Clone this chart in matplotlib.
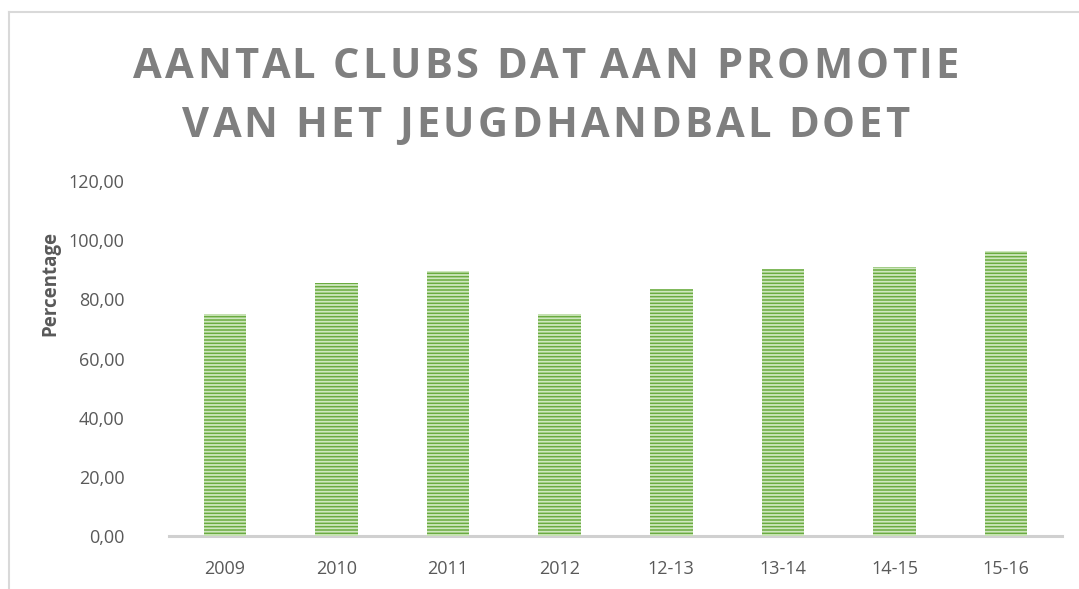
import matplotlib
matplotlib.use("Agg")
import matplotlib.pyplot as plt
from matplotlib.lines import Line2D
from matplotlib.font_manager import FontProperties

categories = ["2009", "2010", "2011", "2012", "12-13", "13-14", "14-15", "15-16"]
values = [75.0, 85.6, 89.7, 75.0, 83.6, 90.4, 90.8, 96.3]
yticks = [0, 20, 40, 60, 80, 100, 120]
ytick_labels = ["0,00", "20,00", "40,00", "60,00", "80,00", "100,00", "120,00"]
title_lines = ["AANTAL CLUBS DAT AAN PROMOTIE", "VAN HET JEUGDHANDBAL DOET"]
ylabel = "Percentage"

W, H = 1079, 589
fig = plt.figure(figsize=(W / 100, H / 100), dpi=100)
plt.rcParams["hatch.linewidth"] = 1.3

ax = fig.add_axes([169 / W, 1 - 536 / H, (1062 - 169) / W, (536 - 181) / H])
x = list(range(len(categories)))
ax.bar(x, values, width=0.38, color="#6aab40", edgecolor="#cfe7bf",
       hatch="-----", linewidth=0, zorder=3)

ax.set_xlim(-0.5, len(categories) - 0.5)
ax.set_ylim(0, 120)
ax.set_yticks(yticks)
ax.set_yticklabels(ytick_labels)
ax.set_xticks(x)
ax.set_xticklabels(categories)
for s in ["top", "right", "left"]:
    ax.spines[s].set_visible(False)
ax.spines["bottom"].set_color("#d0d0d0")
ax.spines["bottom"].set_linewidth(2.2)
ax.tick_params(axis="both", length=0, labelsize=13, colors="#595959")
ax.tick_params(axis="y", pad=32)
ax.tick_params(axis="x", pad=17)
for lab in ax.get_xticklabels() + ax.get_yticklabels():
    lab.set_family("Open Sans")

fig.text(50 / W, 1 - 283 / H, ylabel, rotation=90, ha="center", va="center",
         fontsize=13.5, fontweight="bold", color="#595959", family="Open Sans")

# title with letter spacing, drawn character by character
renderer = fig.canvas.get_renderer()
prop = FontProperties(family="Open Sans", weight="bold", size=30)
spacing_px = 3.4


def text_w(s):
    w, _, _ = renderer.get_text_width_height_descent(s + "I", prop, ismath=False)
    wi, _, _ = renderer.get_text_width_height_descent("I", prop, ismath=False)
    return w - wi


line_centers = [62, 121]
cx = 546
for line, cy in zip(title_lines, line_centers):
    offsets = [text_w(line[:i]) + i * spacing_px for i in range(len(line))]
    total = text_w(line) + (len(line) - 1) * spacing_px
    x0 = cx - total / 2
    for ch, off in zip(line, offsets):
        if ch == " ":
            continue
        fig.text((x0 + off) / W, 1 - cy / H, ch, ha="left", va="center_baseline",
                 fontproperties=prop, color="#7f7f7f")

# outer chart border (top and left)
fig.add_artist(Line2D([8.5 / W, 1.0], [1 - 11.5 / H, 1 - 11.5 / H],
                      transform=fig.transFigure, color="#d9d9d9", lw=1.5))
fig.add_artist(Line2D([8.5 / W, 8.5 / W], [0, 1 - 11.5 / H],
                      transform=fig.transFigure, color="#d9d9d9", lw=1.5))

fig.savefig("out.png", dpi=100, facecolor="white")
